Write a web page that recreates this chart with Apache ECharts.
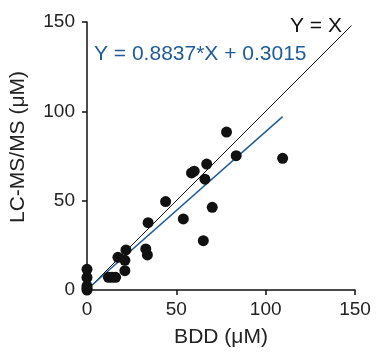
<!DOCTYPE html>
<html>
<head>
<meta charset="utf-8">
<script src="https://cdn.jsdelivr.net/npm/echarts@6/dist/echarts.min.js"></script>
<style>
  html, body { margin: 0; padding: 0; background: #fff; }
  #chart { width: 376px; height: 358px; }
</style>
</head>
<body>
<div id="chart"></div>
<script>
// BDD (x) vs LC-MS/MS (y), both in µM
const bddValues = [0, 0, 0, 0, 0, 12, 14, 16, 17.3, 21.2, 21.2, 21.8, 32.9, 33.8, 34.2, 44, 53.9, 58.5, 60, 65.1, 66, 67, 70.1, 78.1, 83.5, 109.5];
const lcmsValues = [0, 1, 2.2, 7, 11.6, 7.1, 7.1, 7.1, 18.3, 16.6, 10.8, 22.4, 23, 19.6, 37.7, 49.5, 39.8, 65.5, 66.5, 27.6, 62, 70.5, 46.3, 88.4, 75.2, 73.7];

const identityLine = [[0, 0], [148, 148]];
const fitSlope = 0.8837;
const fitIntercept = 0.3015;
const fitRange = [0, 109.5];
const axisTicks = { min: 0, max: 150, interval: 50 };

const points = bddValues.map((x, i) => [x, lcmsValues[i]]);
const fitLine = fitRange.map(x => [x, fitSlope * x + fitIntercept]);

const blue = '#1f5c99';
const font = 'Liberation Sans, Arial, sans-serif';

const chart = echarts.init(document.getElementById('chart'));

const axisCommon = {
  type: 'value',
  min: axisTicks.min,
  max: axisTicks.max,
  interval: axisTicks.interval,
  nameLocation: 'middle',
  nameTextStyle: { color: '#222', fontSize: 21, fontFamily: font },
  axisLine: { show: true, lineStyle: { color: '#111', width: 1.5 } },
  axisTick: { show: true, inside: false, length: 5, lineStyle: { color: '#111', width: 1.5 } },
  splitLine: { show: false },
  axisLabel: { color: '#222', fontSize: 19, fontFamily: font }
};

chart.setOption({
  animation: false,
  grid: { left: 86, right: 21, top: 22, bottom: 68 },
  xAxis: Object.assign({}, axisCommon, {
    name: 'BDD (μM)',
    nameGap: 37,
    axisLabel: Object.assign({}, axisCommon.axisLabel, { margin: 10 })
  }),
  yAxis: Object.assign({}, axisCommon, {
    name: 'LC-MS/MS (μM)',
    nameGap: 58,
    nameTextStyle: Object.assign({}, axisCommon.nameTextStyle, { padding: [0, 0, 0, 18] }),
    axisLabel: Object.assign({}, axisCommon.axisLabel, { margin: 12 })
  }),
  graphic: [
    { type: 'text', left: 290, top: 16, style: { text: 'Y = X', fill: '#111', fontSize: 21, fontFamily: font } },
    { type: 'text', left: 94, top: 44, style: { text: 'Y = ' + fitSlope + '*X + ' + fitIntercept, fill: blue, fontSize: 21, fontFamily: font } }
  ],
  series: [
    {
      type: 'line',
      data: identityLine,
      symbol: 'none',
      lineStyle: { color: '#111', width: 1 },
      z: 2
    },
    {
      type: 'line',
      data: fitLine,
      symbol: 'none',
      lineStyle: { color: blue, width: 1.5 },
      z: 2
    },
    {
      type: 'scatter',
      data: points,
      symbolSize: 11,
      itemStyle: { color: '#111', opacity: 1 },
      z: 3
    }
  ]
});
</script>
</body>
</html>
